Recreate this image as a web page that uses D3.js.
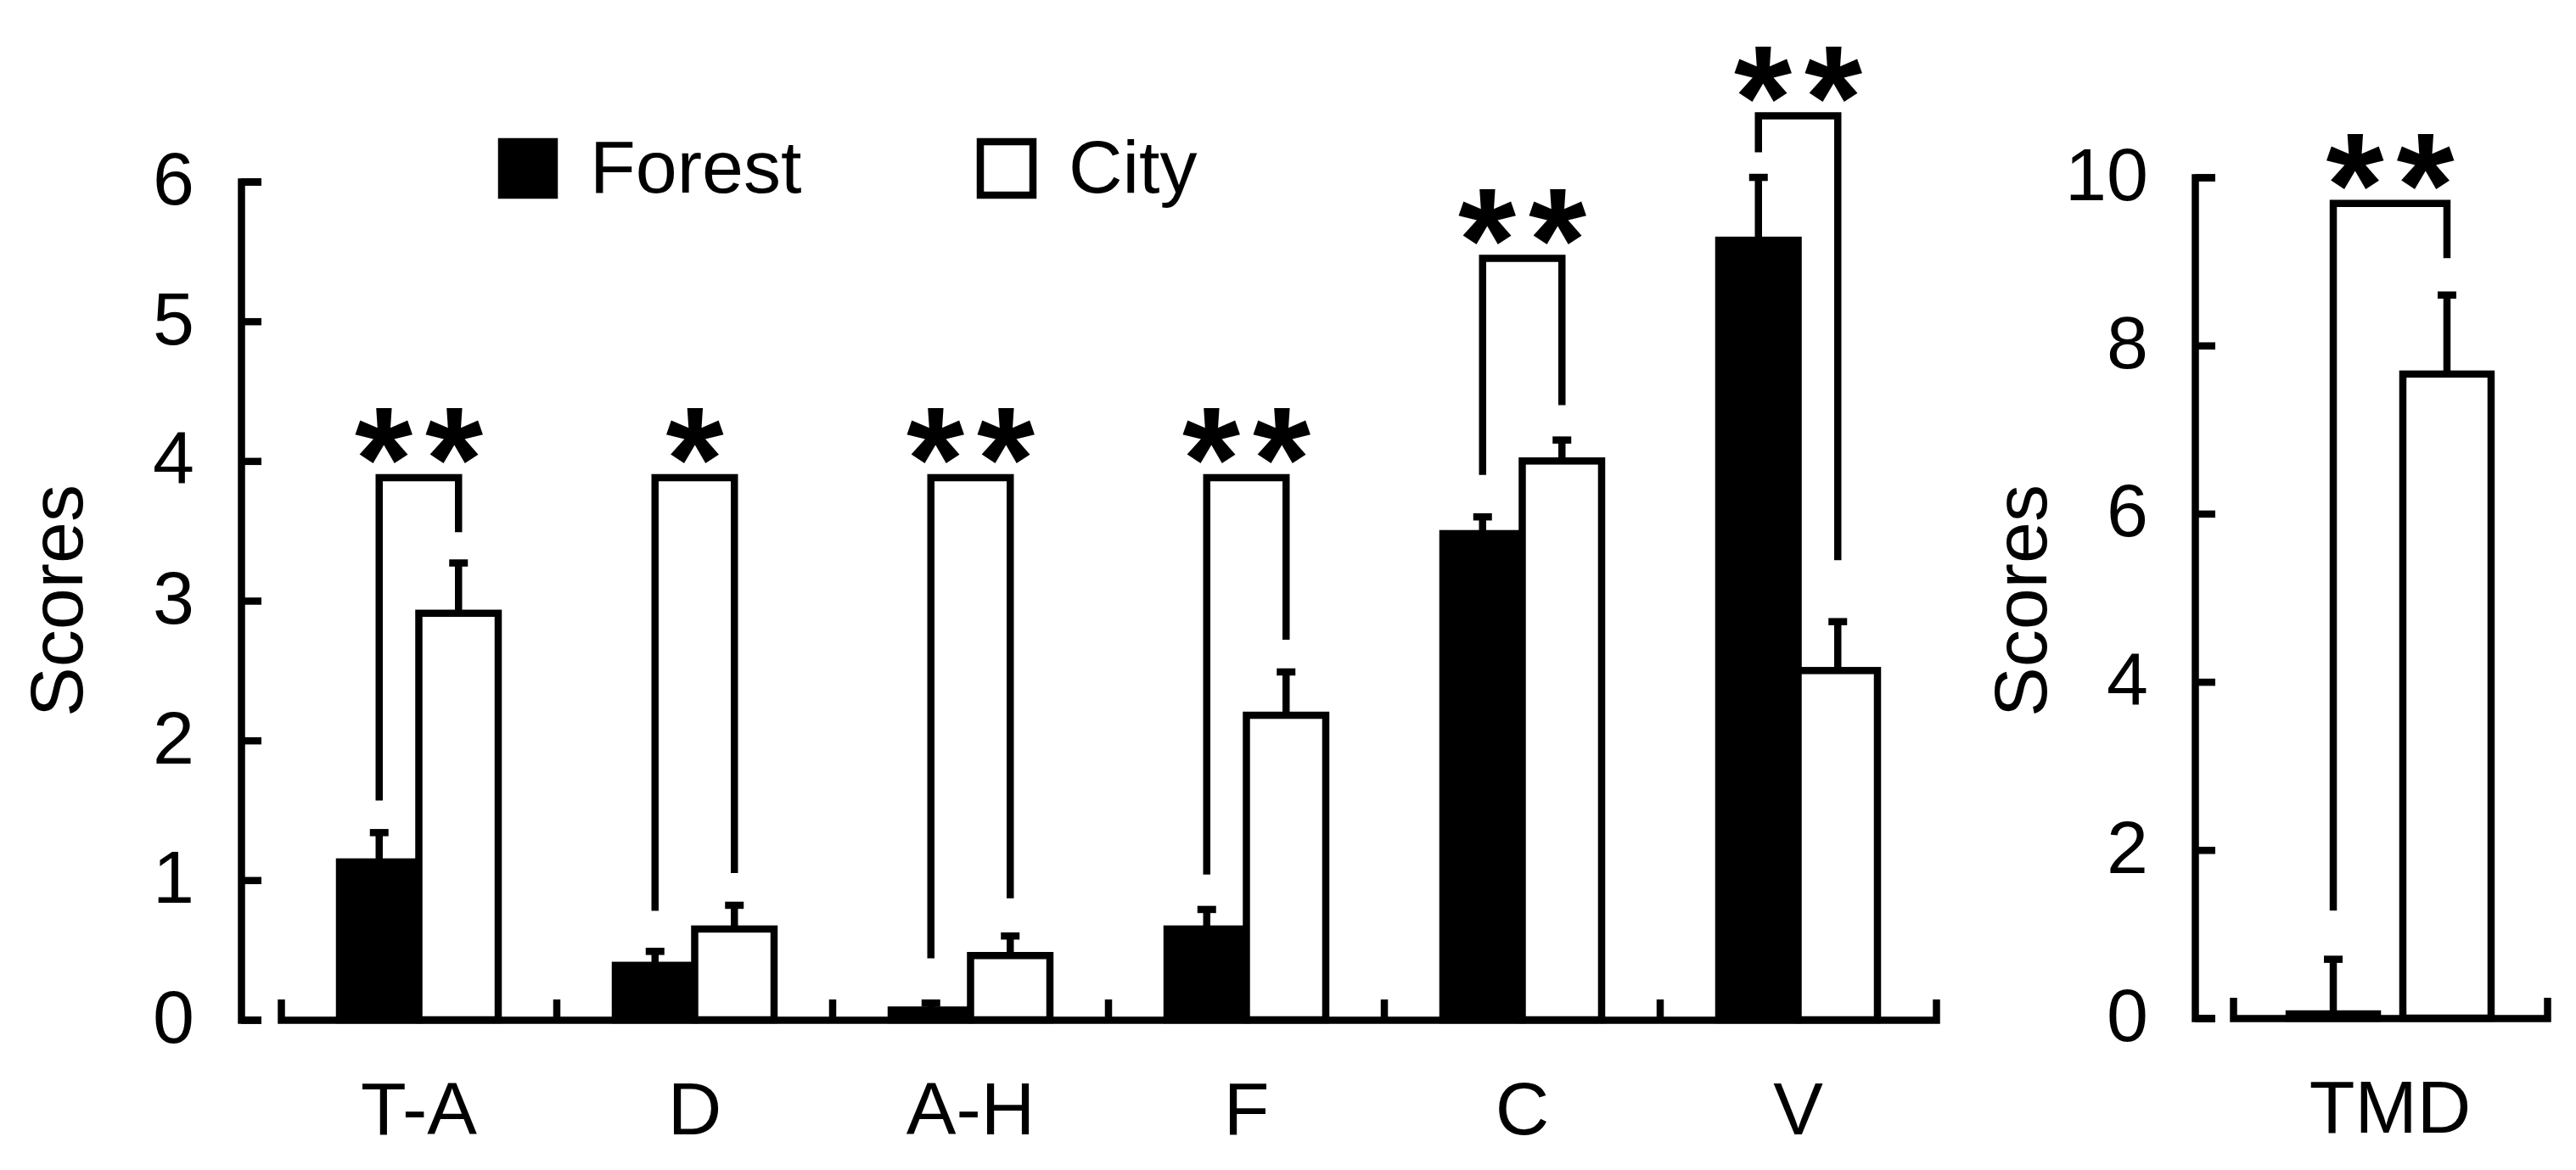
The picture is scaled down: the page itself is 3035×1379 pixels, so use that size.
<!DOCTYPE html>
<html>
<head>
<meta charset="utf-8">
<script src="https://cdn.jsdelivr.net/npm/d3@7"></script>
<style>
  html, body { margin: 0; padding: 0; background: #fff; }
  svg { display: block; }
  .ax text { font-family: 'Liberation Sans', Arial, sans-serif; font-size: 88px; fill: #000; }
  .ax path, .ax line { stroke: #000; stroke-width: 8.5; }
  .lbl { font-family: 'Liberation Sans', Arial, sans-serif; font-size: 88px; fill: #000; }
  .star { font-family: 'Liberation Sans', Arial, sans-serif; font-size: 175px; font-weight: bold; fill: #000; }
</style>
</head>
<body>
<svg id="chart"></svg>
<script>
'use strict';

//left panel data
const categories = ['T-A', 'D', 'A-H', 'F', 'C', 'V'];
const forestMean = [1.13, 0.39, 0.07, 0.65, 3.48, 5.58];
const forestErr = [0.21, 0.10, 0.05, 0.14, 0.12, 0.45];
const cityMean = [2.91, 0.65, 0.46, 2.18, 4.00, 2.50];
const cityErr = [0.36, 0.17, 0.14, 0.31, 0.15, 0.35];
const sigMarks = ['**', '*', '**', '**', '**', '**'];
const sigTop = [3.88, 3.88, 3.88, 3.88, 5.45, 6.47];
const sigLeftEnd = [1.57, 0.78, 0.44, 1.04, 3.90, 6.21];
const sigRightEnd = [3.49, 1.05, 0.87, 2.72, 4.40, 3.29];
const yTicks = [0, 1, 2, 3, 4, 5, 6];

//right panel data
const tmdCategory = ['TMD'];
const tmdForest = [0.05];
const tmdForestErr = [0.65];
const tmdCity = [7.66];
const tmdCityErr = [0.94];
const tmdMarks = ['**'];
const tmdSigTop = [9.69];
const tmdSigLeftEnd = [1.28];
const tmdSigRightEnd = [9.04];
const tmdTicks = [0, 2, 4, 6, 8, 10];

const legendItems = ['Forest', 'City'];

const W = 3035, H = 1379;
const sw = 8.5; //line width
const tick = 24;

const svg = d3.select('#chart').attr('width', W).attr('height', H);
svg.append('rect').attr('width', W).attr('height', H).attr('fill', '#fff');

function drawPanel(p) {
  const g = svg.append('g');
  const x = d3.scaleBand().domain(p.cats).range(p.xRange);
  const y = d3.scaleLinear().domain(p.yDomain).range(p.yRange);
  const bw = x.bandwidth() * p.barFrac;
  const off = x.bandwidth() * p.offFrac;
  const cx = (c) => x(c) + x.bandwidth() / 2;

  //y axis, inward ticks
  const ya = g.append('g').attr('class', 'ax')
    .attr('transform', `translate(${p.axisX},0)`)
    .call(d3.axisLeft(y).tickValues(p.ticks).tickFormat(d3.format('d'))
      .tickSizeInner(-tick).tickSizeOuter(-tick).tickPadding(55));
  ya.selectAll('text').attr('dy', '0.3em');
  ya.select('.domain').attr('fill', 'none');

  //x axis, upward ticks between categories
  const xa = g.append('g').attr('class', 'ax')
    .attr('transform', `translate(0,${y(0)})`)
    .call(d3.axisBottom(x).tickSizeInner(0).tickSizeOuter(-tick).tickPadding(0));
  xa.select('.domain').attr('fill', 'none');
  xa.selectAll('.tick text').attr('dy', null).attr('y', 135);
  xa.selectAll('.bound')
    .data(p.cats.slice(1))
    .join('line')
    .attr('class', 'bound')
    .attr('x1', (c) => x(c)).attr('x2', (c) => x(c))
    .attr('y1', 0).attr('y2', -tick);

  //bars
  const series = [
    { mean: p.forest, err: p.forestErr, fill: '#000', dx: -off },
    { mean: p.city, err: p.cityErr, fill: '#fff', dx: off }
  ];
  series.forEach((s) => {
    p.cats.forEach((c, i) => {
      const bx = cx(c) + s.dx;
      g.append('rect')
        .attr('x', bx - bw / 2)
        .attr('y', y(s.mean[i]))
        .attr('width', bw)
        .attr('height', y(0) - y(s.mean[i]))
        .attr('fill', s.fill)
        .attr('stroke', '#000')
        .attr('stroke-width', sw);
      //error bar, upper half only
      const top = y(s.mean[i] + s.err[i]);
      g.append('line')
        .attr('x1', bx).attr('x2', bx)
        .attr('y1', y(s.mean[i])).attr('y2', top)
        .attr('stroke', '#000').attr('stroke-width', sw);
      g.append('line')
        .attr('x1', bx - 11).attr('x2', bx + 11)
        .attr('y1', top).attr('y2', top)
        .attr('stroke', '#000').attr('stroke-width', sw);
    });
  });

  //significance brackets
  p.cats.forEach((c, i) => {
    const xl = cx(c) - off;
    const xr = cx(c) + off;
    g.append('path')
      .attr('d', `M${xl},${y(p.sigLeft[i])}V${y(p.sigTop[i])}H${xr}V${y(p.sigRight[i])}`)
      .attr('fill', 'none')
      .attr('stroke', '#000')
      .attr('stroke-width', sw);
    const chars = p.marks[i].split('');
    chars.forEach((ch, j) => {
      g.append('text')
        .attr('class', 'star')
        .attr('x', cx(c) + (j - (chars.length - 1) / 2) * 83)
        .attr('y', y(p.sigTop[i]) + 38)
        .attr('text-anchor', 'middle')
        .text(ch);
    });
  });

  //y title
  g.append('text')
    .attr('class', 'lbl')
    .attr('transform', `translate(${p.titleX},708) rotate(-90)`)
    .attr('text-anchor', 'middle')
    .text('Scores');
}

drawPanel({
  cats: categories, xRange: [331, 2281], yDomain: [0, 6], yRange: [1202, 214],
  barFrac: 0.2877, offFrac: 0.1438, axisX: 284, ticks: yTicks, titleX: 97,
  forest: forestMean, forestErr: forestErr, city: cityMean, cityErr: cityErr,
  marks: sigMarks, sigTop: sigTop, sigLeft: sigLeftEnd, sigRight: sigRightEnd
});

drawPanel({
  cats: tmdCategory, xRange: [2631, 3001], yDomain: [0, 10], yRange: [1200, 209],
  barFrac: 0.281, offFrac: 0.181, axisX: 2586, ticks: tmdTicks, titleX: 2411,
  forest: tmdForest, forestErr: tmdForestErr, city: tmdCity, cityErr: tmdCityErr,
  marks: tmdMarks, sigTop: tmdSigTop, sigLeft: tmdSigLeftEnd, sigRight: tmdSigRightEnd
});

//legend
const legendX = [591, 1155];
const leg = svg.append('g');
legendItems.forEach((name, i) => {
  leg.append('rect')
    .attr('x', legendX[i]).attr('y', 167)
    .attr('width', 62).attr('height', 63)
    .attr('fill', i === 0 ? '#000' : '#fff')
    .attr('stroke', '#000').attr('stroke-width', sw);
  leg.append('text')
    .attr('class', 'lbl')
    .attr('x', legendX[i] + 104)
    .attr('y', 227)
    .text(name);
});
</script>
</body>
</html>
